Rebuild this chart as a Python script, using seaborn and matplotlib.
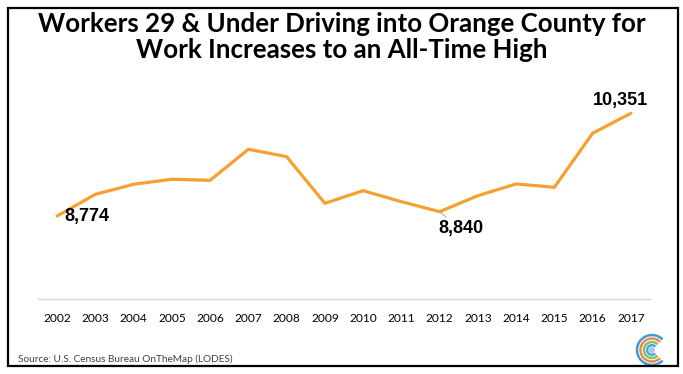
import matplotlib
matplotlib.use("Agg")
import matplotlib.pyplot as plt
from matplotlib.patches import Rectangle, Arc, Circle
import seaborn as sns
import pandas as pd

years = list(range(2002, 2018))
workers = [8774, 9107, 9261, 9338, 9322, 9798, 9685, 8969, 9163, 8994,
           8840, 9086, 9266, 9215, 10044, 10351]
labels = {2002: "8,774", 2012: "8,840", 2017: "10,351"}
title = "Workers 29 & Under Driving into Orange County for\nWork Increases to an All-Time High"
source = "Source: U.S. Census Bureau OnTheMap (LODES)"

sns.set_theme(style="white")
plt.rcParams['font.family'] = ['Lato', 'DejaVu Sans']

W, H = 683, 374
fig = plt.figure(figsize=(W / 100, H / 100), dpi=100)
fig.patch.set_facecolor("white")

ax = fig.add_axes([38 / W, (H - 299) / H, 612 / W, (299 - 71) / H])
df = pd.DataFrame({"year": years, "workers": workers})
sns.lineplot(data=df, x="year", y="workers", ax=ax, color="#F5A031",
             linewidth=2.3, solid_joinstyle="miter")
ax.set_xlim(2001.5, 2017.5)
ax.set_ylim(7500, 11000)
ax.set_xticks(years)
ax.set_xticklabels([str(y) for y in years], fontsize=8.6, color="#000000")
ax.tick_params(axis="x", length=0, pad=10)
ax.set_yticks([])
ax.set_xlabel("")
ax.set_ylabel("")
for s in ["top", "left", "right"]:
    ax.spines[s].set_visible(False)
ax.spines["bottom"].set_color("#D9D9D9")
ax.spines["bottom"].set_linewidth(1.0)
ax.patch.set_alpha(0)

lab_font = dict(family="Liberation Sans", fontweight="bold", fontsize=13, color="#000000")
ax.annotate(labels[2002], xy=(2002, workers[0]), xytext=(7, 0),
            textcoords="offset pixels", ha="left", va="center", **lab_font)
ax.annotate(labels[2012], xy=(2012, workers[10]), xytext=(21, -17),
            textcoords="offset pixels", ha="center", va="center",
            arrowprops=dict(arrowstyle="-", color="#A6A6A6", lw=0.7,
                            shrinkA=0, shrinkB=0), **lab_font)
ax.annotate(labels[2017], xy=(2017, workers[-1]), xytext=(-10, 13),
            textcoords="offset pixels", ha="center", va="center", **lab_font)

fig.text(0.5, 1 - 37 / H, title, ha="center", va="center", fontsize=18.6,
         fontweight="bold", color="#000000", linespacing=1.12)
fig.text(18 / W, 1 - 359 / H, source, ha="left", va="center", fontsize=7.2,
         color="#404040")

# frame
fig.patches.append(Rectangle((8 / W, 1 - 366 / H), 670 / W, 358 / H,
                             transform=fig.transFigure, fill=False,
                             edgecolor="black", linewidth=1.6))

# logo
lax = fig.add_axes([(652 - 20) / W, (H - 350 - 20) / H, 40 / W, 40 / H])
lax.set_xlim(-20, 20)
lax.set_ylim(-20, 20)
lax.set_aspect("equal")
lax.axis("off")
for r, c in [(15, "#3D9BD6"), (11.5, "#EE8A45"), (8, "#7DC46A"), (4.8, "#4FA6DE")]:
    lax.add_patch(Arc((0, 0), 2 * r, 2 * r, theta1=45, theta2=315,
                      color=c, lw=1.8))
lax.add_patch(Circle((0, 0), 2.2, color="#A9C7EE"))

fig.savefig("out.png", dpi=100)
